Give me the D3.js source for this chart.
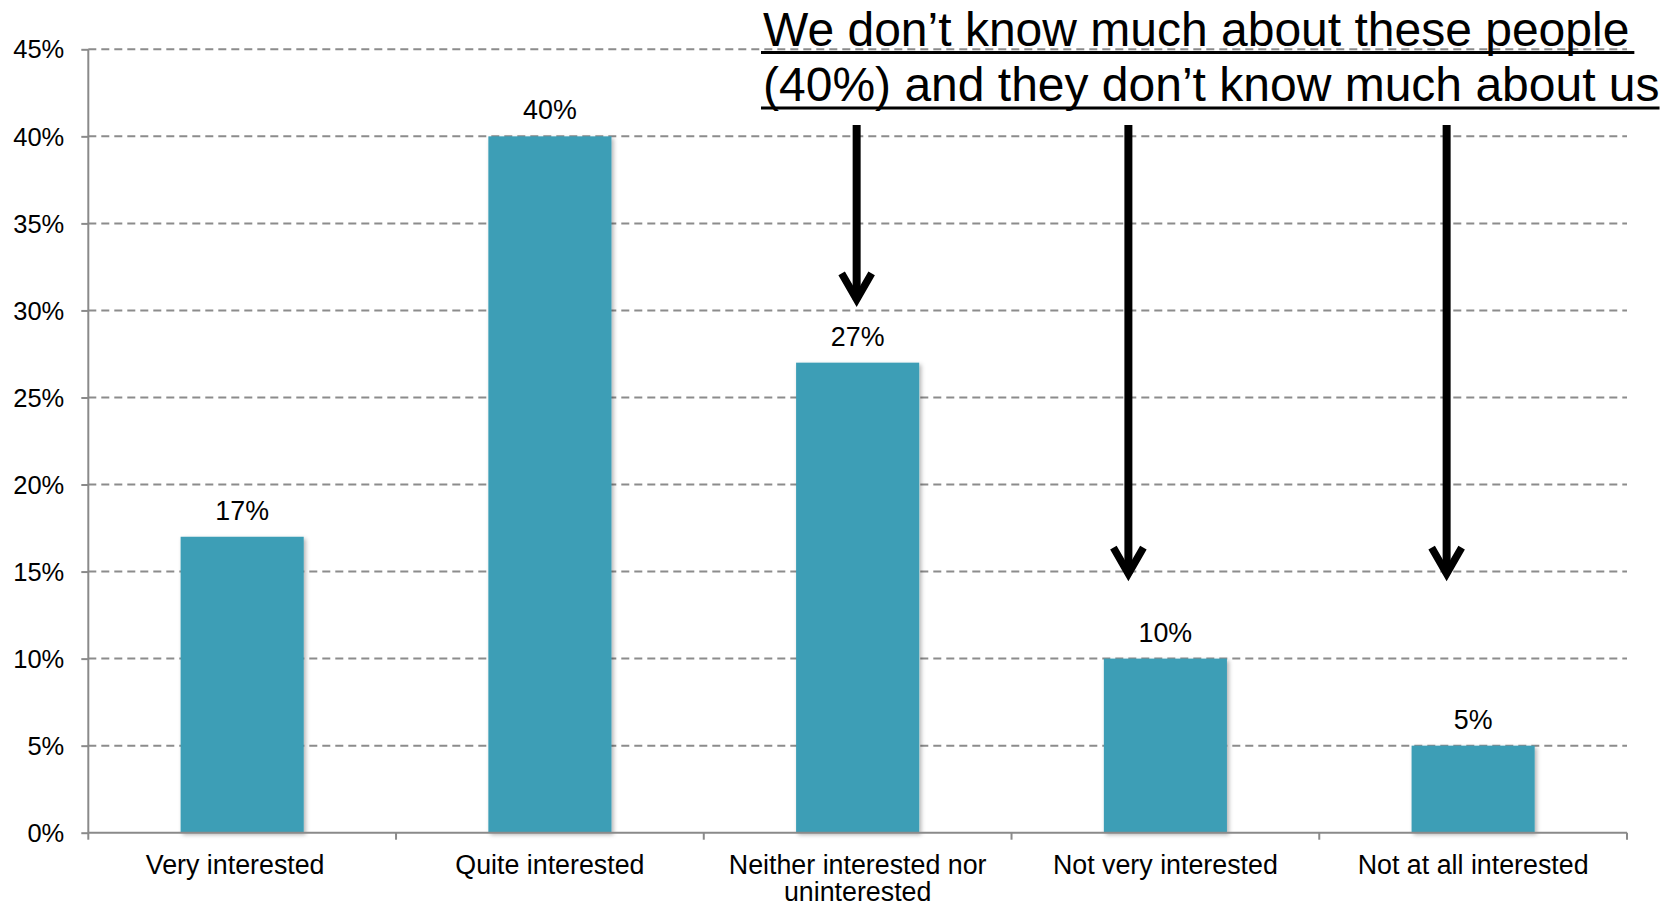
<!DOCTYPE html>
<html>
<head>
<meta charset="utf-8">
<script src="https://cdn.jsdelivr.net/npm/d3@7"></script>
<style>
  html, body { margin: 0; padding: 0; background: #fff; }
  svg { display: block; }
  text { font-family: "Liberation Sans", Arial, sans-serif; fill: #000; }
</style>
</head>
<body>
<svg id="chart" width="1676" height="907"></svg>
<script>
const categories = ["Very interested", "Quite interested", "Neither interested nor uninterested", "Not very interested", "Not at all interested"];
const categoryLines = [["Very interested"], ["Quite interested"], ["Neither interested nor", "uninterested"], ["Not very interested"], ["Not at all interested"]];
const values = [0.17, 0.40, 0.27, 0.10, 0.05];
const yTicks = [0, 0.05, 0.10, 0.15, 0.20, 0.25, 0.30, 0.35, 0.40, 0.45];
const titleLines = ["We don\u2019t know much about these people", "(40%) and they don\u2019t know much about us"];
const arrowCategories = [categories[2], categories[3], categories[4]];
const arrowTips = [0.304, 0.1465, 0.1465];

(function () {
const svg = d3.select("#chart");
const mLeft = 88.3, mRight = 1627, mTop = 49.3, mBottom = 832.7;

const x = d3.scaleBand().domain(categories).range([mLeft, mRight]).paddingInner(0.6).paddingOuter(0.3);
const xOuter = d3.scaleBand().domain(categories).range([mLeft, mRight]).padding(0);
const y = d3.scaleLinear().domain([0, 0.45]).range([mBottom, mTop]);

const defs = svg.append("defs");
const f = defs.append("filter").attr("id", "shadow").attr("x", "-10%").attr("y", "-10%").attr("width", "130%").attr("height", "130%");
f.append("feDropShadow").attr("dx", 2).attr("dy", 2).attr("stdDeviation", 2).attr("flood-color", "#000").attr("flood-opacity", 0.3);

// gridlines
svg.append("g").selectAll("line").data(yTicks.filter(d => d > 0)).join("line")
  .attr("x1", mLeft).attr("x2", mRight)
  .attr("y1", d => y(d)).attr("y2", d => y(d))
  .attr("stroke", "#8c8c8c").attr("stroke-width", 2).attr("stroke-dasharray", "8,5");

// bars
svg.append("g").selectAll("rect").data(values).join("rect")
  .attr("x", (d, i) => x(categories[i]))
  .attr("width", x.bandwidth())
  .attr("y", d => y(d))
  .attr("height", d => y(0) - y(d))
  .attr("fill", "#3c9eb6")
  .attr("filter", "url(#shadow)");

// value labels
svg.append("g").selectAll("text").data(values).join("text")
  .attr("x", (d, i) => x(categories[i]) + x.bandwidth() / 2)
  .attr("y", d => y(d) - 17)
  .attr("text-anchor", "middle")
  .style("font-size", "26.8px")
  .text(d => Math.round(d * 100) + "%");

// y axis
const yAxis = d3.axisLeft(y).tickValues(yTicks).tickFormat(d3.format(".0%")).tickSize(7).tickPadding(17);
const gy = svg.append("g").attr("transform", `translate(${mLeft},0)`).call(yAxis);
gy.select(".domain").attr("stroke", "#8a8a8a").attr("stroke-width", 2).attr("d", `M0,${mTop}V${mBottom}`);
gy.selectAll(".tick line").attr("stroke", "#8a8a8a").attr("stroke-width", 2);
gy.selectAll(".tick text").style("font-size", "25.5px").style("font-family", "'Liberation Sans', Arial, sans-serif").attr("fill", "#000").attr("dy", "0.34em");

// x axis line and boundary ticks
const gx = svg.append("g");
gx.append("line").attr("x1", mLeft).attr("x2", mRight).attr("y1", mBottom).attr("y2", mBottom)
  .attr("stroke", "#8a8a8a").attr("stroke-width", 2);
const bounds = categories.map(c => xOuter(c)).concat([mRight]);
gx.selectAll("line.tk").data(bounds).join("line").attr("class", "tk")
  .attr("x1", d => d).attr("x2", d => d).attr("y1", mBottom).attr("y2", mBottom + 7)
  .attr("stroke", "#8a8a8a").attr("stroke-width", 2);

// category labels
const labelShift = [-7, 0, 0, 0, 0];
const cl = svg.append("g").selectAll("text").data(categories).join("text")
  .attr("x", (d, i) => x(d) + x.bandwidth() / 2 + labelShift[i])
  .attr("y", mBottom + 41)
  .attr("text-anchor", "middle")
  .style("font-size", "26.8px");
cl.each(function(d, i) {
  d3.select(this).selectAll("tspan").data(categoryLines[i]).join("tspan")
    .attr("x", x(d) + x.bandwidth() / 2 + labelShift[i])
    .attr("dy", (t, j) => j === 0 ? 0 : 27.5)
    .text(t => t);
});

// arrows (horizontal offsets from the category centre, as in the reference)
const arrowOffsets = [-1, -37, -26.5];
const ag = svg.append("g");
arrowCategories.forEach((c, i) => {
  const cx = x(c) + x.bandwidth() / 2 + arrowOffsets[i];
  const tipY = y(arrowTips[i]);
  ag.append("line").attr("x1", cx).attr("x2", cx).attr("y1", 125).attr("y2", tipY - 4)
    .attr("stroke", "#000").attr("stroke-width", 8);
  ag.append("path").attr("d", `M${cx - 15},${tipY - 30}L${cx},${tipY - 4}L${cx + 15},${tipY - 30}`)
    .attr("fill", "none").attr("stroke", "#000").attr("stroke-width", 7.5).attr("stroke-linejoin", "miter").attr("stroke-miterlimit", 10);
});

// title
const tx = 763;
const baselines = [45.5, 101];
const tg = svg.append("g");
titleLines.forEach((t, i) => {
  const el = tg.append("text").attr("x", tx).attr("y", baselines[i]).style("font-size", "48px").text(t);
  const len = el.node().getComputedTextLength();
  const extra = i === 0 ? 5 : 0;
  tg.append("line").attr("x1", tx - 2).attr("x2", tx + len + extra)
    .attr("y1", baselines[i] + 7).attr("y2", baselines[i] + 7)
    .attr("stroke", "#000").attr("stroke-width", 3);
});
})();
</script>
</body>
</html>
